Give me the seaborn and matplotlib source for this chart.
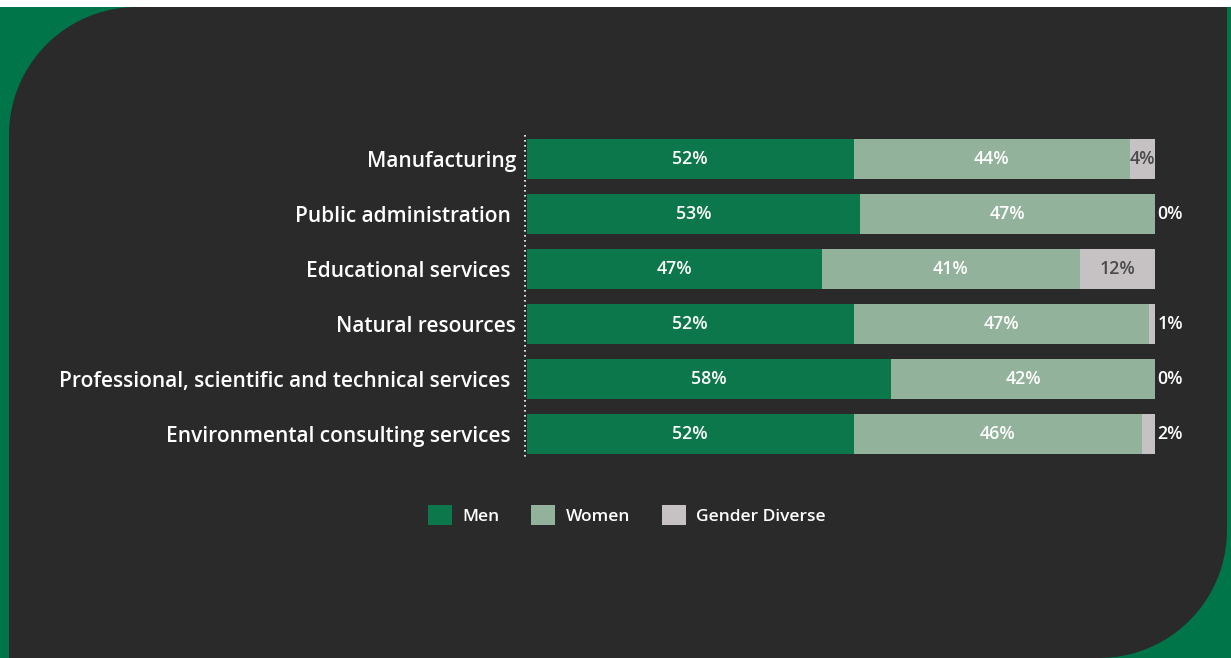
import matplotlib
matplotlib.use("Agg")
import matplotlib.pyplot as plt
from matplotlib.path import Path
from matplotlib.patches import PathPatch, Patch, Rectangle
import numpy as np
import pandas as pd
import seaborn as sns

# Share of employees by gender, per sector (percent)
sectors = [
    "Manufacturing",
    "Public administration ",
    "Educational services ",
    "Natural resources",
    "Professional, scientific and technical services ",
    "Environmental consulting services ",
]
men = [52, 53, 47, 52, 58, 52]
women = [44, 47, 41, 47, 42, 46]
gender_diverse = [4, 0, 12, 1, 0, 2]
legend_labels = ["Men", "Women", "Gender Diverse"]

MEN_C = "#0b774a"
WOMEN_C = "#93b29b"
GD_C = "#c6c2c4"
PANEL_C = "#2a2a2a"
FRAME_C = "#00754a"

sns.set_theme(style="white")
plt.rcParams["font.family"] = ["Open Sans", "DejaVu Sans"]

W, H = 1231, 658
fig = plt.figure(figsize=(W / 100, H / 100), dpi=100)
fig.patch.set_facecolor(FRAME_C)

# Background panel with rounded top-left and bottom-right corners
bg = fig.add_axes([0, 0, 1, 1], zorder=-10)
bg.set_xlim(0, W)
bg.set_ylim(H, 0)
bg.axis("off")
bg.add_patch(Rectangle((0, 0), W, 7, color="white", lw=0))


def arc(cx, cy, r, a0, a1, n=40):
    t = np.radians(np.linspace(a0, a1, n))
    return np.column_stack([cx + r * np.cos(t), cy + r * np.sin(t)])


L, T, R, B, rad = 9, 7, 1227, 658, 128
pts = np.vstack([
    [[L, B]],
    arc(L + rad, T + rad, rad, 180, 270),
    [[R, T]],
    arc(R - rad, B - rad, rad, 0, 90),
    [[L, B]],
])
bg.add_patch(PathPatch(Path(pts), facecolor=PANEL_C, edgecolor="none"))

# Bar chart area
ax = fig.add_axes([527 / W, 1 - 461.5 / H, 628 / W, 330 / H])
ax.set_facecolor("none")

df = pd.DataFrame({
    "sector": sectors,
    "men": men,
    "women": women,
    "gd": gender_diverse,
})
df["men_women"] = df["men"] + df["women"]
df["total"] = df["men_women"] + df["gd"]

bw = 0.73
sns.barplot(data=df, y="sector", x="total", color=GD_C, width=bw,
            saturation=1, ax=ax, orient="h")
sns.barplot(data=df, y="sector", x="men_women", color=WOMEN_C, width=bw,
            saturation=1, ax=ax, orient="h")
sns.barplot(data=df, y="sector", x="men", color=MEN_C, width=bw,
            saturation=1, ax=ax, orient="h")
for p in ax.patches:
    p.set_edgecolor("none")

ax.set_xlim(0, 100)
ax.set_ylim(5.5, -0.5)
ax.set_xlabel("")
ax.set_ylabel("")
ax.set_xticks([])
ax.tick_params(axis="y", length=0, pad=8)
for lbl in ax.get_yticklabels():
    lbl.set_color("white")
    lbl.set_fontsize(15)
    lbl.set_fontweight("semibold")
    lbl.set_verticalalignment("center_baseline")
for s in ax.spines.values():
    s.set_visible(False)

# Dotted baseline left of the bars
ax.plot([-0.35, -0.35], [-0.44, 5.44], linestyle=(0, (1, 2)), color="white",
        lw=1.2, clip_on=False)

lab_kw = dict(va="center", fontsize=12.8, fontweight="semibold")
for i, (m, w, g) in enumerate(zip(men, women, gender_diverse)):
    ax.text(m / 2, i, f"{m}%", ha="center", color="white", **lab_kw)
    ax.text(m + w / 2, i, f"{w}%", ha="center", color="white", **lab_kw)
    if g >= 4:
        ax.text(m + w + g / 2, i, f"{g}%", ha="center", color="#4a4a4a",
                **lab_kw)
    else:
        ax.text(100.4, i, f"{g}%", ha="left", color="white", **lab_kw)

handles = [Patch(facecolor=c, edgecolor="none") for c in (MEN_C, WOMEN_C, GD_C)]
fig.legend(handles, legend_labels, loc="center", ncol=3, frameon=False,
           bbox_to_anchor=(627 / W, 1 - 515 / H),
           prop={"size": 12.5, "weight": "semibold"},
           labelcolor="white", handlelength=1.38, handleheight=1.38,
           handletextpad=0.62, columnspacing=1.8)

fig.savefig("out.png", dpi=100, facecolor=fig.get_facecolor())
